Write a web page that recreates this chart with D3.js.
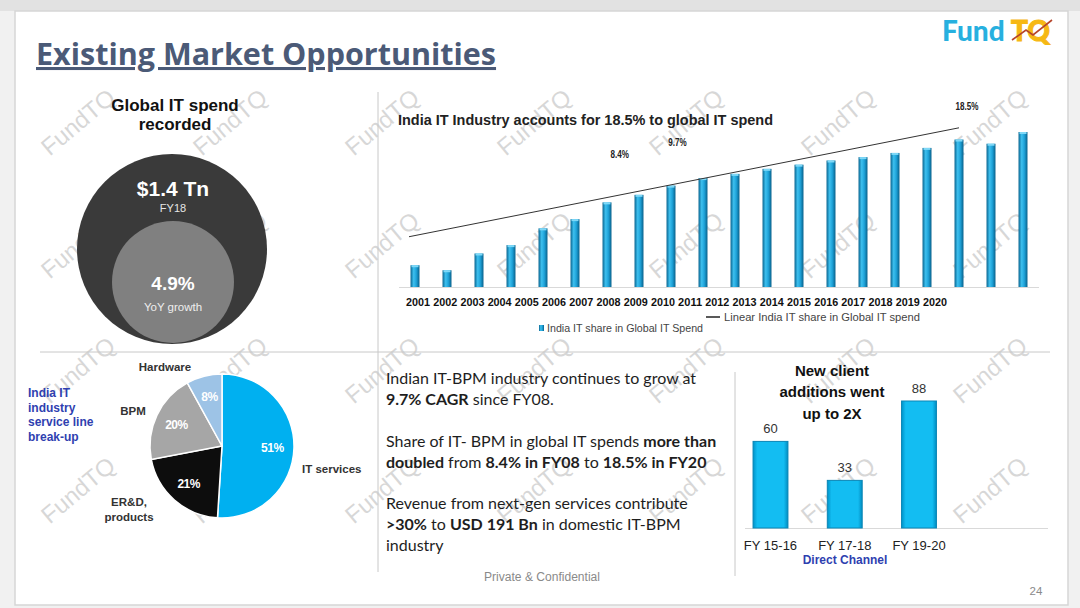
<!DOCTYPE html>
<html>
<head>
<meta charset="utf-8">
<script src="https://cdn.jsdelivr.net/npm/d3@7"></script>
<style>
  body { margin: 0; background: #fff; }
  svg { display: block; }
  .narrow { font-family: "Liberation Sans", Arial, sans-serif; }
  .arial { font-family: "Liberation Sans", Arial, sans-serif; }
</style>
</head>
<body>
<div id="chart"></div>
<script>
var width = 1080,
    height = 608;

// India IT share in global IT spend (bars)
var years = ["2001","2002","2003","2004","2005","2006","2007","2008","2009","2010",
             "2011","2012","2013","2014","2015","2016","2017","2018","2019","2020"];
var shareValues = [2.6, 2.0, 4.0, 5.0, 7.0, 8.1, 10.1, 11.0, 12.1, 13.0,
                   13.5, 14.1, 14.6, 15.1, 15.5, 16.0, 16.6, 17.6, 17.1, 18.5];
// linear trend endpoints
var trendYears = ["2001", "2018"];
var trendValues = [6.0, 19.0];
// floating labels
var annotText = ["8.4%", "9.7%", "18.5%"];
var annotYears = ["2007", "2009", "2018"];
var annotShift = [0.4, 0.2, 0.25];
var annotLevel = [15.8, 17.3, 21.5];

// service line break-up
var serviceNames = ["IT services", "ER&D, products", "BPM", "Hardware"];
var serviceShare = [51, 21, 20, 8];
var serviceColors = ["#00b0f0", "#0d0d0d", "#a6a6a6", "#9dc3e6"];

// new client additions
var clientPeriods = ["FY 15-16", "FY 17-18", "FY 19-20"];
var clientValues = [60, 33, 88];

var svg = d3.select("#chart").append("svg")
    .attr("width", width)
    .attr("height", height);

// squeeze text to a width (the slide used a narrow font)
function squeeze(sel, w) {
  sel.attr("textLength", w).attr("lengthAdjust", "spacingAndGlyphs");
}

var defs = svg.append("defs");
var g1 = defs.append("linearGradient").attr("id", "barGrad").attr("x1", 0).attr("x2", 1).attr("y1", 0).attr("y2", 0);
g1.append("stop").attr("offset", "0%").attr("stop-color", "#0a6590");
g1.append("stop").attr("offset", "35%").attr("stop-color", "#3dc0ef");
g1.append("stop").attr("offset", "65%").attr("stop-color", "#1ea2d8");
g1.append("stop").attr("offset", "100%").attr("stop-color", "#08608a");
var g2 = defs.append("linearGradient").attr("id", "cliGrad").attr("x1", 0).attr("x2", 1).attr("y1", 0).attr("y2", 0);
g2.append("stop").attr("offset", "0%").attr("stop-color", "#0092c8");
g2.append("stop").attr("offset", "12%").attr("stop-color", "#13bdf2");
g2.append("stop").attr("offset", "88%").attr("stop-color", "#13bdf2");
g2.append("stop").attr("offset", "100%").attr("stop-color", "#008cc0");

// slide frame
svg.append("rect").attr("width", width).attr("height", height).attr("fill", "#f1f1f1");
svg.append("rect").attr("x", 0).attr("y", 0).attr("width", width).attr("height", 11).attr("fill", "#e2e2e2");
svg.append("rect").attr("x", 15).attr("y", 11).attr("width", 1053).attr("height", 594)
    .attr("fill", "#fff").attr("stroke", "#d6d6d6").attr("stroke-width", 1.5);

// watermarks
var wmG = svg.append("g");
[122, 245, 370, 490].forEach(function(wy){
  for (var i = 0; i < 7; i++) {
    var wx = 78 + i * 152;
    wmG.append("text")
      .attr("class", "arial")
      .attr("transform", "translate(" + wx + "," + wy + ") rotate(-40)")
      .attr("text-anchor", "middle")
      .attr("dy", "0.35em")
      .attr("font-size", 24)
      .attr("fill", "#bdbdbd")
      .attr("fill-opacity", 0.6)
      .text("FundTQ");
  }
});

// title + logo
svg.append("text")
  .attr("x", 36).attr("y", 65)
  .attr("font-family", "'Open Sans', sans-serif")
  .attr("font-weight", 700)
  .attr("font-size", 30.5)
  .attr("fill", "#4b5a77")
  .attr("text-decoration", "underline")
  .text("Existing Market Opportunities");

var logo = svg.append("g").attr("font-family", "Lato, sans-serif").attr("font-weight", 900).attr("font-size", 28);
logo.append("text").attr("x", 942).attr("y", 41).attr("fill", "#27b0df").text("Fund");
logo.append("text").attr("x", 1011).attr("y", 41).attr("fill", "#f6b814").attr("stroke", "#f6b814").attr("stroke-width", 1).text("TQ");
logo.append("polyline")
  .attr("points", "1012,40 1026,30 1033,35 1052,20")
  .attr("fill", "none").attr("stroke", "#b5442a").attr("stroke-width", 1.6);

// dividers
svg.append("line").attr("x1", 40).attr("x2", 1050).attr("y1", 352).attr("y2", 352).attr("stroke", "#c8c8c8");
svg.append("line").attr("x1", 378).attr("x2", 378).attr("y1", 92).attr("y2", 572).attr("stroke", "#c8c8c8");
svg.append("line").attr("x1", 735).attr("x2", 735).attr("y1", 372).attr("y2", 576).attr("stroke", "#c8c8c8");

// ---------- global IT spend circles ----------
var cG = svg.append("g").attr("class", "arial").attr("text-anchor", "middle");
cG.append("text").attr("x", 175).attr("y", 111).attr("font-size", 17).attr("font-weight", 700).attr("fill", "#111").text("Global IT spend");
cG.append("text").attr("x", 175).attr("y", 130).attr("font-size", 17).attr("font-weight", 700).attr("fill", "#111").text("recorded");
cG.append("circle").attr("cx", 172).attr("cy", 249).attr("r", 95).attr("fill", "#3a3a3a");
cG.append("circle").attr("cx", 173).attr("cy", 282).attr("r", 61).attr("fill", "#808080");
cG.append("text").attr("x", 173).attr("y", 196).attr("font-size", 21).attr("font-weight", 700).attr("fill", "#fff").text("$1.4 Tn");
cG.append("text").attr("x", 173).attr("y", 212).attr("font-size", 11).attr("fill", "#e6e6e6").text("FY18");
cG.append("text").attr("x", 173).attr("y", 290).attr("font-size", 19).attr("font-weight", 700).attr("fill", "#fff").text("4.9%");
cG.append("text").attr("x", 173).attr("y", 311).attr("font-size", 11.5).attr("fill", "#eee").text("YoY growth");

// ---------- India IT share bar chart ----------
var x = d3.scaleBand().domain(years).range([399, 1039]).paddingInner(0.72).paddingOuter(0.36);
var y = d3.scaleLinear().domain([0, 18.5]).range([287, 132]);
var xLab = d3.scalePoint().domain(years).range([418, 935]);

var bG = svg.append("g");
bG.append("text").attr("class", "narrow").attr("x", 398).attr("y", 125)
  .attr("font-size", 15).attr("font-weight", 700).attr("fill", "#222")
  .text("India IT Industry accounts for 18.5% to global IT spend")
  .call(squeeze, 375);

bG.append("line").attr("x1", 399).attr("x2", 1039).attr("y1", 287.5).attr("y2", 287.5).attr("stroke", "#d9d9d9");

bG.selectAll("rect.share")
  .data(shareValues)
  .enter().append("rect")
  .attr("class", "share")
  .attr("x", function(d, i){ return x(years[i]); })
  .attr("y", function(d){ return y(d); })
  .attr("width", x.bandwidth())
  .attr("height", function(d){ return y(0) - y(d); })
  .attr("fill", "url(#barGrad)");

bG.selectAll("rect.cap")
  .data(shareValues)
  .enter().append("rect")
  .attr("class", "cap")
  .attr("x", function(d, i){ return x(years[i]) + 1; })
  .attr("y", function(d){ return y(d); })
  .attr("width", x.bandwidth() - 2)
  .attr("height", 2)
  .attr("fill", "#7fd8f7");

bG.append("line")
  .attr("x1", x(trendYears[0]) + x.bandwidth() / 2 - 6)
  .attr("y1", y(trendValues[0]))
  .attr("x2", x(trendYears[1]) + x.bandwidth() / 2)
  .attr("y2", y(trendValues[1]))
  .attr("stroke", "#333").attr("stroke-width", 1);

bG.selectAll("text.annot")
  .data(annotText)
  .enter().append("text")
  .attr("class", "narrow annot")
  .attr("x", function(d, i){ return x(annotYears[i]) + x.bandwidth() / 2 + x.step() * annotShift[i]; })
  .attr("y", function(d, i){ return y(annotLevel[i]); })
  .attr("dy", "0.35em")
  .attr("text-anchor", "middle")
  .attr("font-size", 10).attr("font-weight", 700).attr("fill", "#222")
  .text(function(d){ return d; })
  .each(function(d){ d3.select(this).call(squeeze, d.length * 4.6); });

bG.selectAll("text.year")
  .data(years)
  .enter().append("text")
  .attr("class", "narrow year")
  .attr("x", function(d){ return xLab(d); })
  .attr("y", 306)
  .attr("text-anchor", "middle")
  .attr("font-size", 11.5).attr("font-weight", 700).attr("fill", "#111")
  .text(function(d){ return d; })
  .call(squeeze, 24);

// legend
bG.append("line").attr("x1", 706).attr("x2", 720).attr("y1", 317).attr("y2", 317).attr("stroke", "#222").attr("stroke-width", 1.5);
bG.append("text").attr("class", "narrow").attr("x", 724).attr("y", 321).attr("font-size", 11).attr("fill", "#444")
  .text("Linear India IT share in Global IT spend")
  .call(squeeze, 196);
bG.append("rect").attr("x", 539).attr("y", 325).attr("width", 5).attr("height", 6).attr("fill", "url(#barGrad)");
bG.append("text").attr("class", "narrow").attr("x", 547).attr("y", 332).attr("font-size", 11).attr("fill", "#444")
  .text("India IT share in Global IT Spend")
  .call(squeeze, 156);

// ---------- service line pie ----------
var pieData = d3.pie().sort(null).value(function(d){ return d; })(serviceShare);
var radius = 72;
var arc = d3.arc().innerRadius(0).outerRadius(radius);
var labelArc = d3.arc().innerRadius(radius * 0.7).outerRadius(radius * 0.7);
var pG = svg.append("g").attr("transform", "translate(222,446)");
pG.selectAll("path")
  .data(pieData)
  .enter().append("path")
  .attr("d", arc)
  .attr("fill", function(d, i){ return serviceColors[i]; })
  .attr("stroke", "#fff").attr("stroke-width", 1.5);
pG.selectAll("text")
  .data(pieData)
  .enter().append("text")
  .attr("class", "arial")
  .attr("transform", function(d){ return "translate(" + labelArc.centroid(d) + ")"; })
  .attr("text-anchor", "middle")
  .attr("dy", "0.35em")
  .attr("font-size", 12).attr("font-weight", 700).attr("fill", "#fff")
  .attr("letter-spacing", -0.5)
  .text(function(d){ return d.data + "%"; });

var pl = svg.append("g").attr("class", "arial").attr("font-size", 11.5).attr("font-weight", 700).attr("fill", "#333");
pl.append("text").attr("x", 165).attr("y", 371).attr("text-anchor", "middle").text(serviceNames[3]);
pl.append("text").attr("x", 133).attr("y", 415).attr("text-anchor", "middle").text(serviceNames[2]);
pl.append("text").attr("x", 129).attr("y", 506).attr("text-anchor", "middle").text("ER&D,");
pl.append("text").attr("x", 129).attr("y", 521).attr("text-anchor", "middle").text("products");
pl.append("text").attr("x", 302).attr("y", 473).attr("font-weight", 700).text(serviceNames[0]);

var bl = svg.append("g").attr("class", "arial").attr("font-size", 12).attr("font-weight", 700).attr("fill", "#2f3fb0");
["India IT", "industry", "service line", "break-up"].forEach(function(t, i){
  bl.append("text").attr("x", 28).attr("y", 397 + i * 14.7).text(t);
});

// ---------- text block ----------
var para = [
  [["Indian IT-BPM industry continues to grow at", false]],
  [["9.7% CAGR", true], [" since FY08.", false]],
  [],
  [["Share of IT- BPM in global IT spends ", false], ["more than", true]],
  [["doubled", true], [" from ", false], ["8.4% in FY08", true], [" to ", false], ["18.5% in FY20", true]],
  [],
  [["Revenue from next-gen services contribute", false]],
  [[">30%", true], [" to ", false], ["USD 191 Bn", true], [" in domestic IT-BPM", false]],
  [["industry", false]]
];
var tG = svg.append("g").attr("font-family", "Lato, 'Open Sans', sans-serif").attr("font-size", 16).attr("fill", "#1e1e1e");
para.forEach(function(line, i){
  if (!line.length) return;
  var t = tG.append("text").attr("x", 386).attr("y", 384 + i * 20.9);
  line.forEach(function(seg){
    t.append("tspan").attr("font-weight", seg[1] ? 700 : 400).text(seg[0]);
  });
});

// ---------- new client additions ----------
var cx = d3.scaleBand().domain(clientPeriods).range([733, 956.5]).paddingInner(0.53).paddingOuter(0.27);
var cy = d3.scaleLinear().domain([0, 88]).range([528, 401]);
var nG = svg.append("g").attr("class", "arial");
["New client", "additions went", "up to 2X"].forEach(function(t, i){
  nG.append("text").attr("x", 832).attr("y", 376 + i * 21.3).attr("text-anchor", "middle")
    .attr("font-size", 15).attr("font-weight", 700).attr("fill", "#111").text(t);
});
nG.append("line").attr("x1", 745).attr("x2", 1048).attr("y1", 528.5).attr("y2", 528.5).attr("stroke", "#d9d9d9");
nG.selectAll("rect.cli")
  .data(clientValues)
  .enter().append("rect")
  .attr("class", "cli")
  .attr("x", function(d, i){ return cx(clientPeriods[i]); })
  .attr("y", function(d){ return cy(d); })
  .attr("width", cx.bandwidth())
  .attr("height", function(d){ return cy(0) - cy(d); })
  .attr("fill", "url(#cliGrad)")
  .attr("stroke", "#0a86b6").attr("stroke-width", 1);
nG.selectAll("text.val")
  .data(clientValues)
  .enter().append("text")
  .attr("class", "val")
  .attr("x", function(d, i){ return cx(clientPeriods[i]) + cx.bandwidth() / 2; })
  .attr("y", function(d){ return cy(d) - 8; })
  .attr("text-anchor", "middle")
  .attr("font-size", 13).attr("fill", "#333")
  .text(function(d){ return d; });
nG.selectAll("text.per")
  .data(clientPeriods)
  .enter().append("text")
  .attr("class", "per")
  .attr("x", function(d){ return cx(d) + cx.bandwidth() / 2; })
  .attr("y", 550)
  .attr("text-anchor", "middle")
  .attr("font-size", 13).attr("fill", "#222")
  .text(function(d){ return d; });
nG.append("text").attr("x", 845).attr("y", 564).attr("text-anchor", "middle")
  .attr("font-size", 12).attr("font-weight", 700).attr("fill", "#2f3fb0").text("Direct Channel");

// footer
svg.append("text").attr("class", "narrow").attr("x", 542).attr("y", 581).attr("text-anchor", "middle")
  .attr("font-size", 12).attr("fill", "#8a8a8a").text("Private & Confidential")
  .call(squeeze, 116);
svg.append("text").attr("class", "narrow").attr("x", 1036).attr("y", 595).attr("text-anchor", "middle")
  .attr("font-size", 11.5).attr("fill", "#8a8a8a").text("24");
</script>
</body>
</html>
